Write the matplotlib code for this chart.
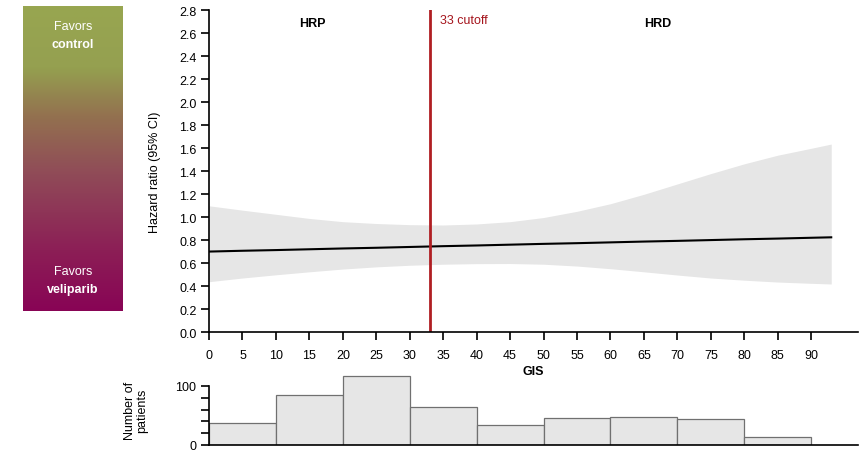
import numpy as np
import matplotlib
matplotlib.use("Agg")
import matplotlib.pyplot as plt
from matplotlib.colors import LinearSegmentedColormap

plt.rcParams['font.family'] = ['Liberation Sans', 'DejaVu Sans']

# spline estimate of hazard ratio vs GIS
gis = [0, 5, 10, 15, 20, 25, 30, 35, 40, 45, 50, 55, 60, 65, 70, 75, 80, 85, 90, 93]
hr = [0.702, 0.709, 0.715, 0.722, 0.729, 0.735, 0.742, 0.749, 0.755, 0.762,
      0.769, 0.775, 0.782, 0.789, 0.795, 0.802, 0.809, 0.815, 0.822, 0.826]
ci_upper = [1.10, 1.062, 1.026, 0.99, 0.962, 0.946, 0.936, 0.933, 0.942, 0.962,
            0.998, 1.052, 1.118, 1.20, 1.29, 1.38, 1.465, 1.54, 1.60, 1.637]
ci_lower = [0.44, 0.472, 0.50, 0.526, 0.55, 0.569, 0.583, 0.592, 0.597, 0.598,
            0.592, 0.576, 0.553, 0.526, 0.498, 0.472, 0.453, 0.437, 0.426, 0.42]
cutoff = 33

# histogram of patients per GIS bin
bin_edges = [0, 10, 20, 30, 40, 50, 60, 70, 80, 90]
n_patients = [38, 84, 117, 65, 33, 45, 47, 44, 14]

fig = plt.figure(figsize=(8.61, 4.52), dpi=100)

# gradient "favors" bar on the left
ax_bar = fig.add_axes([23/861, 1 - 312/452, 100/861, 305/452])
cmap = LinearSegmentedColormap.from_list(
    "favors", [(0.0, "#98a650"), (0.2, "#95a050"), (0.36, "#93714f"),
               (0.55, "#904b58"), (0.8, "#8c1f56"), (1.0, "#880455")])
ax_bar.imshow(np.linspace(0, 1, 256).reshape(-1, 1), aspect="auto", cmap=cmap,
              extent=[0, 1, 0, 1], origin="upper")
ax_bar.set_axis_off()
ax_bar.text(0.5, 0.935, "Favors", color="white", ha="center", va="center", fontsize=9)
ax_bar.text(0.5, 0.877, "control", color="white", ha="center", va="center",
            fontsize=9, fontweight="bold")
ax_bar.text(0.5, 0.13, "Favors", color="white", ha="center", va="center", fontsize=9)
ax_bar.text(0.5, 0.072, "veliparib", color="white", ha="center", va="center",
            fontsize=9, fontweight="bold")

# histogram panel (added first so it sits under the main panel's xlabel)
ax_h = fig.add_axes([209/861, 6/452, 649/861, 71/452])
ax_h.patch.set_visible(False)
ax_h.bar(bin_edges[:-1], n_patients, width=10, align="edge", color="#e6e6e6",
         edgecolor="#707070", linewidth=0.9)
ax_h.set_xlim(0, 97)
ax_h.set_ylim(0, 120)
ax_h.set_yticks([0, 100])
ax_h.set_yticks([20, 40, 60, 80], minor=True)
ax_h.set_xticks([])
ax_h.tick_params(axis="y", which="both", direction="out", length=6, width=1.2,
                 labelsize=9, pad=3)
ax_h.spines["left"].set_bounds(0, 100)
for side in ["top", "right"]:
    ax_h.spines[side].set_visible(False)
for side in ["left", "bottom"]:
    ax_h.spines[side].set_linewidth(1.2)
ax_h.set_ylabel("Number of\npatients", fontsize=9, labelpad=20, linespacing=1.0)

# main hazard ratio panel
ax = fig.add_axes([209/861, 1 - 333.3/452, 649/861, 322/452])
ax.patch.set_visible(False)
ax.fill_between(gis, ci_lower, ci_upper, color="#e6e6e6", linewidth=0)
ax.plot(gis, hr, color="black", linewidth=1.5)
ax.axvline(cutoff, color="#b01e22", linewidth=2)
ax.text(cutoff + 1.5, 2.77, "33 cutoff", color="#a5141c", fontsize=9, va="top")
ax.text(15.5, 2.69, "HRP", fontsize=9, fontweight="bold", ha="center", va="center")
ax.text(67, 2.69, "HRD", fontsize=9, fontweight="bold", ha="center", va="center")

ax.set_xlim(0, 97)
ax.set_ylim(0, 2.8)
ax.set_xticks(np.arange(0, 95, 5))
ax.set_yticks(np.arange(0, 2.81, 0.2))
ax.set_yticklabels([f"{v:.1f}" for v in np.arange(0, 2.81, 0.2)])
ax.set_xlabel("GIS", fontsize=9, fontweight="bold", labelpad=3)
ax.set_ylabel("Hazard ratio (95% CI)", fontsize=9, labelpad=13)
ax.tick_params(direction="out", length=6, width=1.2, labelsize=9, pad=3)
ax.tick_params(axis="x", pad=6)
for side in ["top", "right"]:
    ax.spines[side].set_visible(False)
for side in ["left", "bottom"]:
    ax.spines[side].set_linewidth(1.2)

fig.savefig("out.png", dpi=100)
